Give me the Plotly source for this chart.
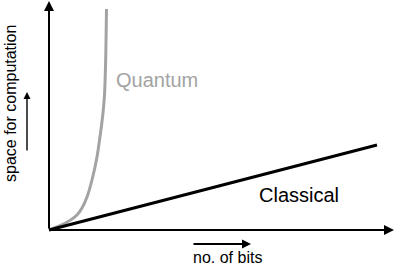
import plotly.graph_objects as go

# Data (x = no. of bits, y = space for computation), arbitrary units
classical_x = [0, 328]
classical_y = [0, 85]

quantum_x = [0, 16.5, 28, 33, 38, 43, 48, 51.5, 54, 55.5, 56.8, 57.5]
quantum_y = [0, 7, 15, 22, 33, 50, 73, 97, 117, 135, 175, 221]

x_label = "no. of bits"
y_label = "space for computation"
quantum_label = "Quantum"
classical_label = "Classical"

FONT = "Liberation Sans, Arial, Helvetica, sans-serif"

fig = go.Figure()
fig.add_trace(go.Scatter(x=quantum_x, y=quantum_y, mode="lines",
                         line=dict(color="#a3a3a3", width=3, shape="spline", smoothing=0.6),
                         hoverinfo="skip"))
fig.add_trace(go.Scatter(x=classical_x, y=classical_y, mode="lines",
                         line=dict(color="black", width=3), hoverinfo="skip"))

def arrow(x0, y0, x1, y1, w=1.8, size=1.0):
    fig.add_annotation(x=x1, y=y1, ax=x0, ay=y0, xref="x", yref="y", axref="x", ayref="y",
                       showarrow=True, arrowhead=2, arrowsize=size, arrowwidth=w,
                       arrowcolor="black", text="")

# main axes
arrow(0, 0, 0, 229, w=2)
arrow(0, 0, 345, 0, w=2)
# label arrows
arrow(-22, 78, -22, 138, w=1.4)
arrow(143, -14, 202, -14, w=1.8)

fig.add_annotation(x=-39, y=126, text=y_label, textangle=-90, showarrow=False,
                   font=dict(family=FONT, size=16, color="black"), xref="x", yref="y")
fig.add_annotation(x=178, y=-27, text=x_label, showarrow=False,
                   font=dict(family=FONT, size=16, color="black"), xref="x", yref="y")
fig.add_annotation(x=108, y=150, text=quantum_label, showarrow=False,
                   font=dict(family=FONT, size=20, color="#a3a3a3"), xref="x", yref="y")
fig.add_annotation(x=250, y=35, text=classical_label, showarrow=False,
                   font=dict(family=FONT, size=20, color="black"), xref="x", yref="y")

fig.update_layout(width=394, height=265, margin=dict(l=0, r=0, t=0, b=0),
                  paper_bgcolor="white", plot_bgcolor="white", showlegend=False,
                  xaxis=dict(range=[-49, 345], visible=False, fixedrange=True),
                  yaxis=dict(range=[-35, 230], visible=False, fixedrange=True))
fig.write_html("out.html", config={"displayModeBar": False})
